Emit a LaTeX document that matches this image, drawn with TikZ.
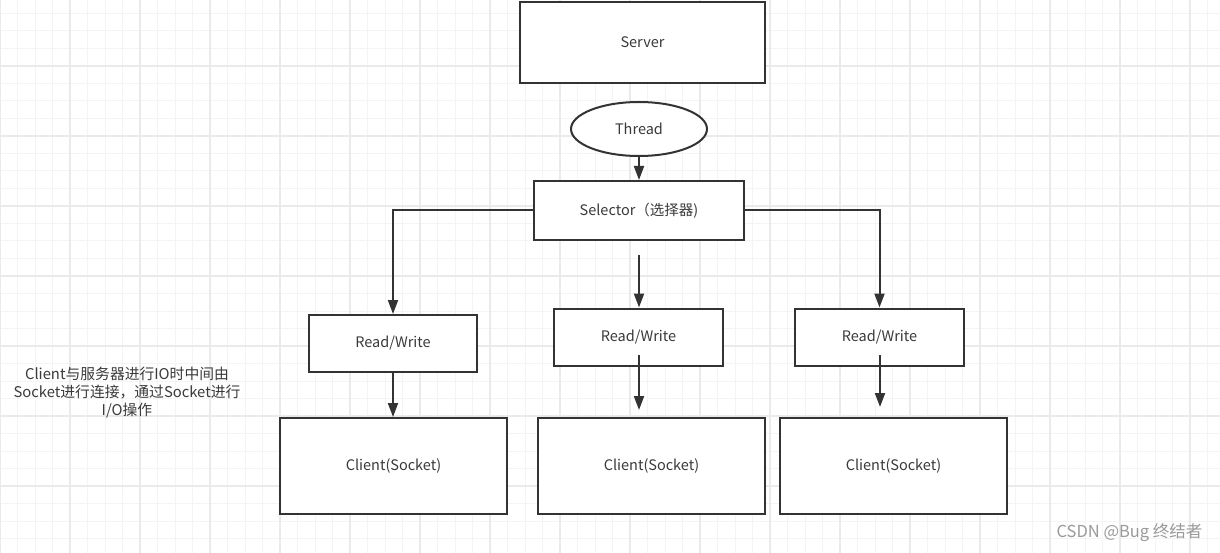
\documentclass[tikz,border=0pt]{standalone}
\usepackage{fontspec}
\setmainfont{Noto Sans CJK SC}
\usetikzlibrary{arrows.meta,shapes.geometric}
\definecolor{ink}{HTML}{333333}
\definecolor{txt}{HTML}{3A3A3A}
\definecolor{gridminor}{HTML}{F4F4F4}
\definecolor{gridmajor}{HTML}{EAEAEA}
\definecolor{wm}{HTML}{9A9A9A}
\tikzset{
  box/.style={draw=ink, line width=2pt, fill=white, text=txt, inner sep=0pt,
    font=\fontsize{14.5}{16}\selectfont},
  oval/.style={ellipse, draw=ink, line width=2pt, fill=white, text=txt, inner sep=0pt,
    font=\fontsize{14.5}{16}\selectfont},
  link/.style={draw=ink, line width=2pt, -{Triangle[length=14pt,width=10pt]}},
}
\begin{document}
\begin{tikzpicture}[x=1pt,y=-1pt]
\useasboundingbox (0,0) rectangle (1220,553);
\fill[white] (0,0) rectangle (1220,553);
% grid
\foreach \i in {0,...,70} {
  \draw[gridminor, line width=1pt] ({17.5*\i},0) -- ({17.5*\i},553);
}
\foreach \j in {0,...,32} {
  \draw[gridminor, line width=1pt] (0,{-4+17.5*\j}) -- (1220,{-4+17.5*\j});
}
\foreach \i in {0,...,17} {
  \draw[gridmajor, line width=1.3pt] ({70*\i},0) -- ({70*\i},553);
}
\foreach \j in {0,...,8} {
  \draw[gridmajor, line width=1.3pt] (0,{-4+70*\j}) -- (1220,{-4+70*\j});
}
% nodes
\node[box, minimum width=245pt, minimum height=81pt] (server) at (642.5,42.5) {Server};
\node[oval, minimum width=136pt, minimum height=54pt] (thread) at (639,129) {Thread};
\node[box, minimum width=210pt, minimum height=59pt] (sel) at (639,210.5) {Selector（选择器)};
\node[box, minimum width=168pt, minimum height=57pt] (rw1) at (393,343.5) {Read/Write};
\node[box, minimum width=169pt, minimum height=57pt] (rw2) at (638.5,337) {Read/Write};
\node[box, minimum width=169pt, minimum height=57pt] (rw3) at (879.5,337) {Read/Write};
\node[box, minimum width=227pt, minimum height=96pt] (c1) at (393.5,466) {Client(Socket)};
\node[box, minimum width=227pt, minimum height=96pt] (c2) at (651.5,466) {Client(Socket)};
\node[box, minimum width=227pt, minimum height=96pt] (c3) at (893.5,466) {Client(Socket)};
\node[text=txt, align=center, font=\fontsize{14.8}{18}\selectfont] (note) at (127,393)
  {Client与服务器进行IO时中间由\\Socket进行连接，通过Socket进行\\I/O操作};
\node[text=wm, anchor=east, font=\fontsize{16.5}{18}\selectfont] (wmk) at (1206,533) {CSDN @Bug 终结者};
% free ends
\coordinate (m1) at (639,255);
\coordinate (m2) at (639,355);
\coordinate (m2e) at (639,410);
\coordinate (m3) at (880,355);
\coordinate (m3e) at (880,407);
% connectors
\draw[link] (thread.south) -- (sel.north);
\draw[link] (sel.west) -| (rw1.north);
\draw[link] (sel.east) -| (rw3.north);
\draw[link] (m1) -- (rw2.north -| m1);
\draw[link] (rw1.south) -- (c1.north -| rw1.south);
\draw[link] (m2) -- (m2e);
\draw[link] (m3) -- (m3e);
\end{tikzpicture}
\end{document}
